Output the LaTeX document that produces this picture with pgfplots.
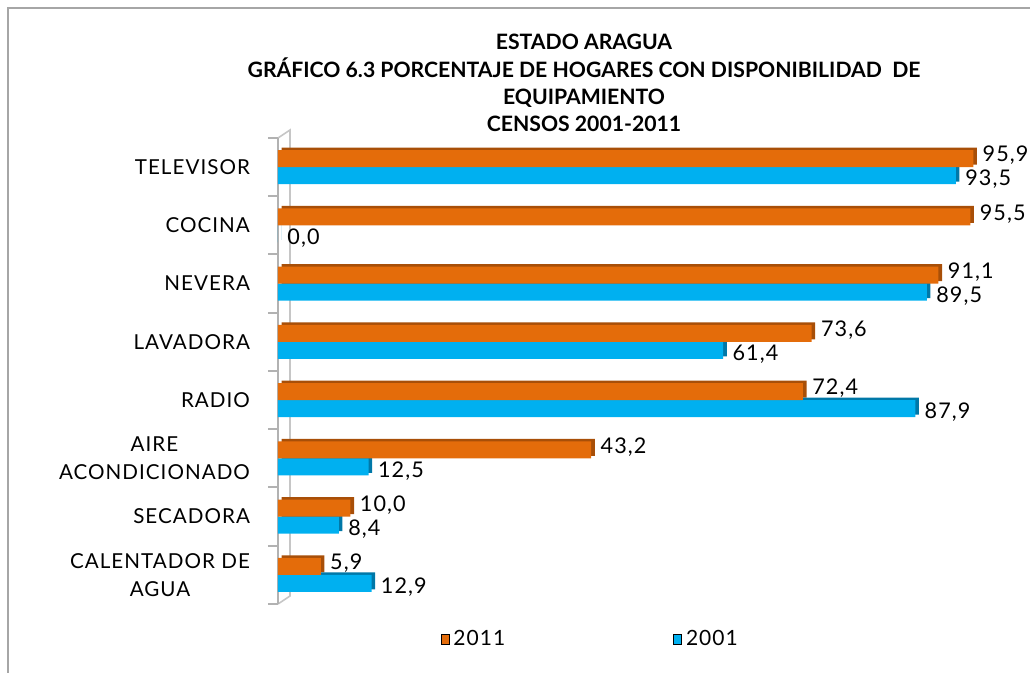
\documentclass[border=0pt]{standalone}
\usepackage{fontspec}
\setmainfont[LetterSpace=5]{Lato}
\newfontfamily\titlefont{Lato}
\usepackage{pgfplots}
\pgfplotsset{compat=1.18}
\definecolor{orm}{HTML}{E46C0A}
\definecolor{ordk}{HTML}{A84F08}
\definecolor{blm}{HTML}{00B0F0}
\definecolor{bldk}{HTML}{0078A8}
\begin{document}
\begin{tikzpicture}[x=0.5pt,y=0.5pt]
\path[use as bounding box] (0,0) rectangle (1030,673);
\draw[gray!70, line width=1pt] (8,0) -- (8,665) -- (1030,665);
\node[align=center, font=\titlefont\bfseries\fontsize{10.6}{13.6}\selectfont] at (584,590)
 {ESTADO ARAGUA\\GRÁFICO 6.3 PORCENTAJE DE HOGARES CON DISPONIBILIDAD \ DE\\EQUIPAMIENTO\\CENSOS 2001-2011};
% 3D wall
\draw[gray!45, line width=0.8pt] (278,535) -- (290,543) -- (290,77) -- (278,69);
\begin{axis}[
  at={(139pt,34.5pt)}, anchor=south west,
  scale only axis, width=362.5pt, height=233pt,
  xmin=0, xmax=100, ymin=-0.5, ymax=7.5,
  axis x line=none, axis y line*=left,
  y axis line style={gray!60, line width=1pt},
  ytick={0,...,7},
  yticklabels={{CALENTADOR DE\\AGUA},SECADORA,{AIRE\\ACONDICIONADO},RADIO,LAVADORA,NEVERA,COCINA,TELEVISOR},
  minor ytick={-0.5,0.5,...,7.5},
  major tick length=0pt, minor tick length=5pt, tick align=outside,
  tick style={gray!60, line width=1pt},
  yticklabel style={align=center, font=\fontsize{10.3}{14}\selectfont, xshift=-10.5pt},
  /pgf/number format/assume math mode=true,
  xbar, bar width=8.5pt, point meta=x,
  legend style={at={(0.432,-0.077)}, anchor=center, draw=none, fill=none, font=\fontsize{10.5}{12}\selectfont, legend columns=2,
    /tikz/every even column/.append style={column sep=82pt}},
  legend image code/.code={\fill[#1] (0pt,-2.5pt) rectangle (4pt,2.5pt);},
]
\addlegendimage{fill=orm}
\addlegendentry{2011}
\addlegendimage{fill=blm}
\addlegendentry{2001}
% dark copies (3D depth)
\addplot[fill=ordk, draw=none, bar shift=4.25pt, xshift=1.8pt, yshift=1.3pt, forget plot]
 coordinates {(95.9,7) (95.5,6) (91.1,5) (73.6,4) (72.4,3) (43.2,2) (10.0,1) (5.9,0)};
\addplot[fill=bldk, draw=none, bar shift=-4.25pt, xshift=1.8pt, yshift=1.3pt, forget plot]
 coordinates {(93.5,7) (0.0,6) (89.5,5) (61.4,4) (87.9,3) (12.5,2) (8.4,1) (12.9,0)};
% main bars
\addplot[fill=blm, draw=none, bar shift=-4.25pt, forget plot,
  nodes near coords={\pgfmathprintnumber[fixed,fixed zerofill,precision=1,use comma]{\pgfplotspointmeta}},
  nodes near coords style={anchor=west, xshift=1.2pt, yshift=-2pt, font=\fontsize{10.8}{12}\selectfont, text=black}]
 coordinates {(93.5,7) (0.0,6) (89.5,5) (61.4,4) (87.9,3) (12.5,2) (8.4,1) (12.9,0)};
\addplot[fill=orm, draw=none, bar shift=4.25pt, forget plot,
  nodes near coords={\pgfmathprintnumber[fixed,fixed zerofill,precision=1,use comma]{\pgfplotspointmeta}},
  nodes near coords style={anchor=west, xshift=1.2pt, yshift=1.5pt, font=\fontsize{10.8}{12}\selectfont, text=black}]
 coordinates {(95.9,7) (95.5,6) (91.1,5) (73.6,4) (72.4,3) (43.2,2) (10.0,1) (5.9,0)};
\end{axis}
\end{tikzpicture}
\end{document}
